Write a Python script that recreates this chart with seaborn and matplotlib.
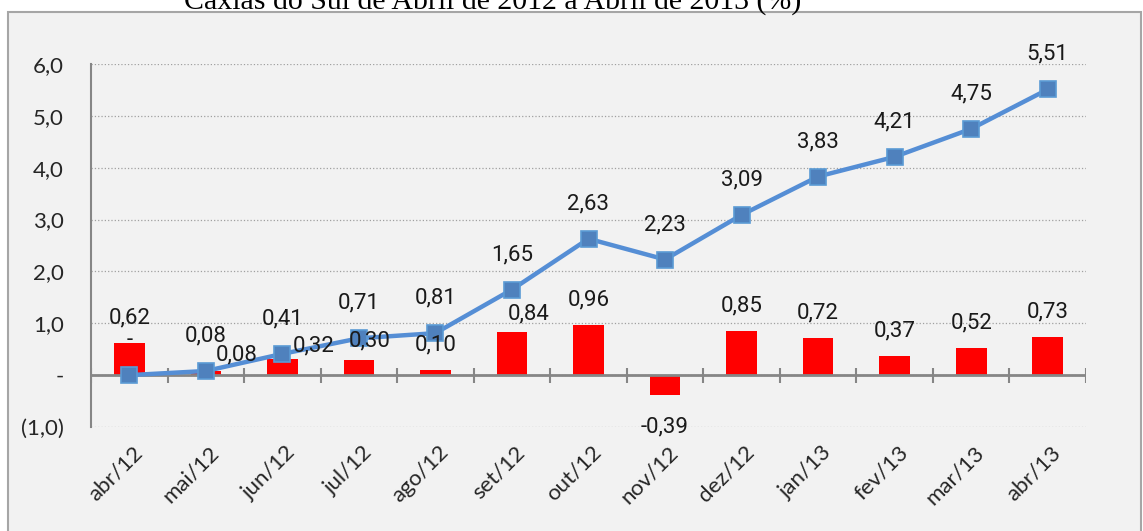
import numpy as np
import matplotlib
matplotlib.use('Agg')
import matplotlib.pyplot as plt
import matplotlib.transforms as mtransforms
import seaborn as sns
from matplotlib.patches import Rectangle
from matplotlib.ticker import FuncFormatter

# dados
meses = ['abr/12', 'mai/12', 'jun/12', 'jul/12', 'ago/12', 'set/12', 'out/12',
         'nov/12', 'dez/12', 'jan/13', 'fev/13', 'mar/13', 'abr/13']
variacao_mensal = [0.62, 0.08, 0.32, 0.30, 0.10, 0.84, 0.96, -0.39, 0.85, 0.72, 0.37, 0.52, 0.73]
acumulado = [0.00, 0.08, 0.41, 0.71, 0.81, 1.65, 2.63, 2.23, 3.09, 3.83, 4.21, 4.75, 5.51]
titulo = 'Caxias do Sul de Abril de 2012 a Abril de 2013 (%)'

# ajustes de posicao dos rotulos das barras (pixels) para evitar sobreposicao
ajuste_barras = {1: (31, 16), 2: (31, 13), 3: (11, 19), 5: (17, 18)}

sns.set_style('white')
plt.rcParams['font.family'] = ['Roboto', 'DejaVu Sans']

W, H = 1143, 531
fig = plt.figure(figsize=(W / 100, H / 100), dpi=100, facecolor='white')
fig.add_artist(Rectangle((8 / W, -0.02), (1141 - 8) / W, 1.02 - 12 / H,
                         transform=fig.transFigure, facecolor='#F2F2F2',
                         edgecolor='#A6A6A6', linewidth=1.5, zorder=0))

ax = fig.add_axes([91 / W, 104 / H, 995 / W, 363 / H])
ax.set_facecolor('none')

sns.barplot(x=meses, y=variacao_mensal, color='#FF0000', saturation=1, width=0.4,
            ax=ax, zorder=2, edgecolor='none')
sns.lineplot(x=np.arange(len(meses)), y=acumulado, ax=ax, color='#558ED5', linewidth=3.2,
             marker='s', markersize=12, markerfacecolor='#4F81BD', markeredgecolor='#5B9BD5',
             markeredgewidth=1.2, zorder=5)

ax.set_xlim(-0.5, len(meses) - 0.5)
ax.set_ylim(-1, 6)
ax.set_yticks(range(-1, 7))


def fmt_y(v, pos):
    if v == 0:
        return '-'
    if v < 0:
        return '({:.1f})'.format(-v).replace('.', ',')
    return '{:.1f}'.format(v).replace('.', ',')


ax.yaxis.set_major_formatter(FuncFormatter(fmt_y))
ax.yaxis.grid(True, linestyle=':', color='#A0A0A0', linewidth=0.9)
ax.xaxis.grid(False)
ax.set_axisbelow(True)

# eixo horizontal no zero com marcas entre categorias
ax.axhline(0, color='#868686', linewidth=2, zorder=3)
ax.vlines(np.arange(-0.5, len(meses)), -0.145, 0.145, color='#868686', linewidth=1.5, zorder=3)

for s in ['top', 'right', 'bottom']:
    ax.spines[s].set_visible(False)
ax.spines['left'].set_color('#868686')
ax.spines['left'].set_linewidth(1.5)

ax.tick_params(axis='y', direction='inout', length=11, width=1.5, color='#868686',
               labelsize=16, pad=14)
ax.tick_params(axis='x', length=0, labelsize=16, pad=16)
ax.set_xticks(range(len(meses)))
ax.set_xticklabels(meses)
desloc = mtransforms.ScaledTranslation(10 / 100, 0, fig.dpi_scale_trans)
for lab in ax.get_xticklabels() + ax.get_yticklabels():
    lab.set_family(['Lato', 'DejaVu Sans'])
for lab in ax.get_xticklabels():
    lab.set_rotation(45)
    lab.set_ha('right')
    lab.set_va('center')
    lab.set_rotation_mode('anchor')
    lab.set_transform(lab.get_transform() + desloc)
ax.set_xlabel('')
ax.set_ylabel('')


def fmt_rot(v):
    if v == 0:
        return '-'
    return '{:.2f}'.format(v).replace('.', ',')


for i, v in enumerate(variacao_mensal):
    dx, dy = ajuste_barras.get(i, (0, 25))
    if v < 0:
        dy = -32
    ax.annotate(fmt_rot(v), (i, v), xytext=(dx, dy), textcoords='offset pixels',
                ha='center', va='center', fontsize=16, color='#1A1A1A', zorder=6)

for i, v in enumerate(acumulado):
    ax.annotate(fmt_rot(v), (i, v), xytext=(0, 35), textcoords='offset pixels',
                ha='center', va='center', fontsize=16, color='#1A1A1A', zorder=6)

fig.text(493 / W, 1 - 9 / H, titulo, ha='center', va='baseline',
         family='Liberation Serif', fontsize=21.5, color='black')

fig.savefig('out.png', dpi=100)
